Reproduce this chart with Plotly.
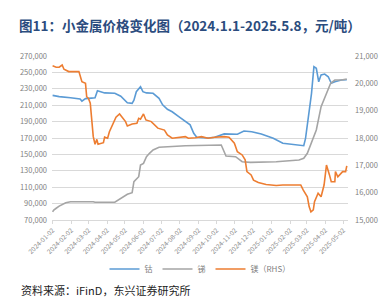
import plotly.graph_objects as go

# ---------------- data ----------------
cobalt_dates = ["2024-01-02","2024-01-13","2024-02-01","2024-02-17","2024-02-20","2024-02-26","2024-03-07","2024-03-13",
                "2024-03-17","2024-03-29","2024-04-15","2024-04-25","2024-05-06","2024-05-14","2024-05-17","2024-05-21",
                "2024-05-28","2024-06-01","2024-06-07","2024-06-18","2024-06-28","2024-07-04","2024-07-12","2024-07-20",
                "2024-07-31","2024-08-06","2024-08-11","2024-08-19","2024-08-25","2024-08-30","2024-09-18","2024-09-29",
                "2024-10-15","2024-11-06","2024-11-17","2024-11-30","2024-12-16","2025-01-05","2025-01-21","2025-02-06",
                "2025-02-17","2025-02-25","2025-02-28","2025-03-05","2025-03-10","2025-03-14","2025-03-18","2025-03-22",
                "2025-03-26","2025-04-01","2025-04-07","2025-04-12","2025-04-18","2025-04-29","2025-05-08"]
cobalt_vals = [222000,220500,219000,217500,215000,218000,218600,219000,
               227500,225000,224500,221000,213000,212300,216000,226500,
               232500,226500,225000,224500,218400,210500,205000,202000,
               196000,193000,190000,186000,175700,171000,170000,171000,
               175000,174500,178500,177700,175000,169600,163500,162300,
               161500,160600,169600,196000,224500,257000,255000,238600,
               247000,248000,244700,236700,238600,240700,241000]

antimony_dates = ["2024-01-02","2024-01-04","2024-01-08","2024-01-13","2024-01-24","2024-02-01","2024-03-10","2024-03-13",
                  "2024-04-15","2024-04-23","2024-04-28","2024-05-06","2024-05-14","2024-05-17","2024-05-25","2024-05-28",
                  "2024-06-02","2024-06-07","2024-06-12","2024-06-18","2024-06-28","2024-07-15","2024-07-26","2024-08-11",
                  "2024-10-10","2024-10-14","2024-10-18","2024-11-03","2024-11-14","2024-11-28","2025-01-10","2025-02-17",
                  "2025-02-25","2025-03-03","2025-03-10","2025-03-18","2025-03-26","2025-04-01","2025-04-07","2025-04-11",
                  "2025-04-18","2025-04-29","2025-05-08"]
antimony_vals = [80000,82200,84300,87000,91100,92300,92300,91600,
                 91600,95200,98400,101300,103300,116700,122800,137000,
                 139000,147200,151300,155400,158700,159400,160200,160600,
                 161500,155400,148000,147200,141100,140300,141100,143200,
                 145200,151300,165500,179800,208200,218400,228500,236700,
                 240700,240700,242000]

magnesium_dates = ["2024-01-02","2024-01-08","2024-01-13","2024-01-18","2024-01-21","2024-01-29","2024-02-15","2024-02-17",
                   "2024-02-20","2024-02-26","2024-02-28","2024-03-02","2024-03-05","2024-03-07","2024-03-10","2024-03-13",
                   "2024-03-16","2024-03-18","2024-03-27","2024-03-29","2024-04-03","2024-04-06","2024-04-12","2024-04-17",
                   "2024-04-23","2024-04-28","2024-05-03","2024-05-06","2024-05-14","2024-05-22","2024-05-25","2024-05-28",
                   "2024-06-02","2024-06-06","2024-06-15","2024-06-26","2024-07-07","2024-07-12","2024-07-20","2024-08-11",
                   "2024-08-16","2024-08-28","2024-09-07","2024-09-18","2024-09-29","2024-10-15","2024-10-23","2024-11-01",
                   "2024-11-06","2024-11-14","2024-11-19","2024-11-22","2024-11-29","2024-12-03","2024-12-11","2024-12-24",
                   "2025-01-10","2025-01-21","2025-02-20","2025-02-24","2025-03-03","2025-03-06","2025-03-09","2025-03-13",
                   "2025-03-15","2025-03-21","2025-03-26","2025-03-31","2025-04-04","2025-04-09","2025-04-12","2025-04-18",
                   "2025-04-19","2025-04-23","2025-04-26","2025-05-01","2025-05-06","2025-05-08"]
magnesium_vals = [20640,20590,20590,20670,20515,20430,20430,20245,
                  20060,20000,19510,19450,19270,18780,18050,17770,
                  17950,17770,17830,18030,17990,18230,18540,18760,
                  18880,18720,18600,18440,18510,18540,18720,18690,
                  18880,18660,18600,18360,18290,18110,17990,18050,
                  17990,18010,18050,17990,18030,18050,18030,17810,
                  17500,17380,17200,16770,16650,16460,16370,16300,
                  16260,16280,16280,16100,15850,15490,15300,15370,
                  15670,15980,15850,16280,17010,16650,16400,16400,
                  16770,16580,16650,16770,16770,16980]

x_ticks = ["2024-01-02","2024-02-02","2024-03-02","2024-04-02","2024-05-02","2024-06-02","2024-07-02","2024-08-02",
           "2024-09-02","2024-10-02","2024-11-02","2024-12-02","2025-01-02","2025-02-02","2025-03-02","2025-04-02",
           "2025-05-02"]
left_ticks = list(range(70000, 270001, 20000))
right_ticks = list(range(15000, 21001, 1000))

series_names = ["钴", "锑", "镁（RHS）"]

# ---------------- figure ----------------
FONT = "Noto Sans CJK SC"
fig = go.Figure()
fig.add_trace(go.Scatter(x=cobalt_dates, y=cobalt_vals, name=series_names[0], mode="lines",
                         line=dict(color="#5B9BD5", width=1.6)))
fig.add_trace(go.Scatter(x=antimony_dates, y=antimony_vals, name=series_names[1], mode="lines",
                         line=dict(color="#A5A5A5", width=1.6)))
fig.add_trace(go.Scatter(x=magnesium_dates, y=magnesium_vals, name=series_names[2], mode="lines",
                         line=dict(color="#ED7D31", width=1.6), yaxis="y2"))

fig.update_layout(
    width=390, height=297,
    margin=dict(l=52, r=33, t=56, b=77),
    paper_bgcolor="white", plot_bgcolor="white",
    font=dict(family=FONT, color="#7F7F7F", size=8),
    showlegend=True,
    legend=dict(orientation="h", x=0.5, xanchor="center", y=-0.21, yanchor="top",
                font=dict(size=8, color="#7F7F7F"), itemwidth=30, tracegroupgap=0),
    xaxis=dict(type="date", range=["2024-01-01", "2025-05-10"],
               tickvals=x_ticks, ticktext=x_ticks, tickangle=-45,
               tickfont=dict(size=6.5, color="#8C8C8C"),
               showgrid=False, showline=True, linecolor="#D9D9D9", linewidth=1,
               ticks="outside", ticklen=3, tickcolor="#D9D9D9", zeroline=False),
    yaxis=dict(range=[70000, 270000], tickvals=left_ticks,
               ticktext=[f"{v:,}" for v in left_ticks],
               tickfont=dict(size=7.5, color="#7F7F7F"),
               showgrid=True, gridcolor="#D9D9D9", gridwidth=1, zeroline=False,
               showline=False, ticklabelstandoff=4),
    yaxis2=dict(range=[15000, 21000], tickvals=right_ticks,
                ticktext=[f"{v:,}" for v in right_ticks],
                tickfont=dict(size=7.5, color="#7F7F7F"),
                overlaying="y", side="right", showgrid=False, zeroline=False,
                showline=False, ticklabelstandoff=6),
)

fig.add_annotation(text="<b>图11：小金属价格变化图（2024.1.1-2025.5.8，元/吨）</b>",
                   xref="paper", yref="paper", x=-0.118, y=1.19, xanchor="left", yanchor="middle",
                   showarrow=False, font=dict(family=FONT, size=13.5, color="#2B4C7E"))
fig.add_annotation(text="资料来源：iFinD，东兴证券研究所",
                   xref="paper", yref="paper", x=-0.11, y=-0.365, xanchor="left", yanchor="top",
                   showarrow=False, font=dict(family=FONT, size=11, color="#222222"))

fig.write_html("out.html")
